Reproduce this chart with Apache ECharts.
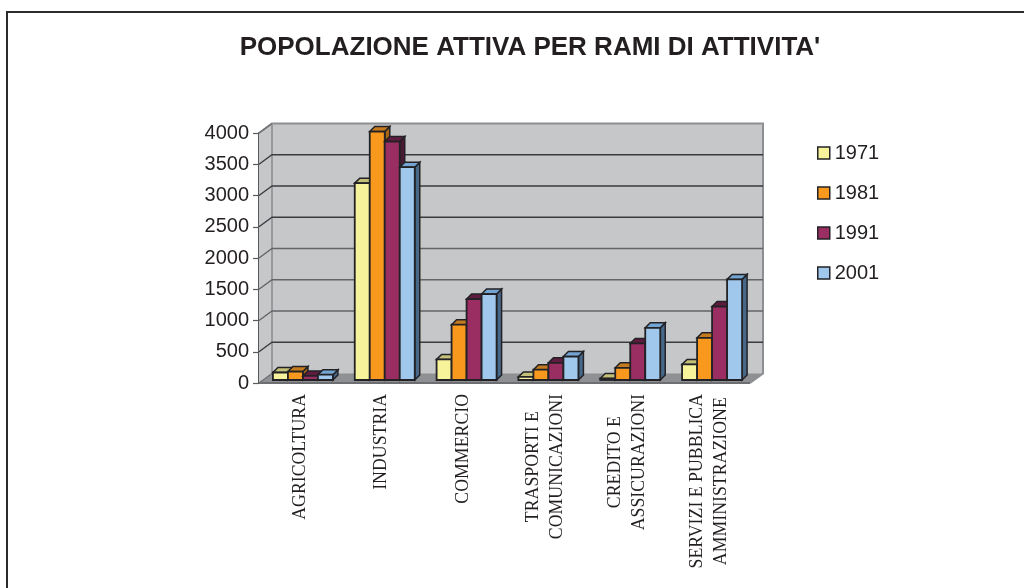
<!DOCTYPE html>
<html><head><meta charset="utf-8">
<style>html,body{margin:0;padding:0;background:#fff}#c{width:1024px;height:588px}</style>
<script src="https://cdn.jsdelivr.net/npm/echarts@6/dist/echarts.min.js"></script>
</head><body><div id="c"></div>
<script>
const categories = ['AGRICOLTURA','INDUSTRIA','COMMERCIO','TRASPORTI E\nCOMUNICAZIONI','CREDITO E\nASSICURAZIONI','SERVIZI E PUBBLICA\nAMMINISTRAZIONE'];
const years = ['1971','1981','1991','2001'];
const v1971 = [120,3150,330,50,25,250];
const v1981 = [135,3975,885,165,195,675];
const v1991 = [65,3815,1295,275,585,1175];
const v2001 = [85,3405,1375,375,835,1610];
const yTicks = [0,500,1000,1500,2000,2500,3000,3500,4000];
const seriesValues = [v1971,v1981,v1991,v2001];
const colors = ['#f7f39b','#f8981d','#9a2d62','#a0c8ec'];
const topColors = ['#c4c078','#c47a1e','#5f1c3e','#74a4d2'];
const sideColors = ['#a8a568','#a86614','#4a1a34','#48688a'];

const wallDX = 13, wallDY = 9.5;
const barW = 15, barDX = 5, barDY = 5, barShiftX = 3, barShiftY = 3;
const edge = '#222226';

function wallItem(params, api){
  const lo = api.coord([0,0]);
  const size = api.size([1,0]);
  const left = lo[0]-size[0]/2, right = left+size[0]*categories.length;
  const y = api.coord([0,api.value(0)])[1];
  const y0 = api.coord([0,0])[1], yTop = api.coord([0,4000])[1];
  const kids = [];
  if (params.dataIndex === 0) {
    kids.push({type:'polygon',shape:{points:[[left,y0],[left,yTop],[left+wallDX,yTop-wallDY],[right+wallDX,yTop-wallDY],[right+wallDX,y0-wallDY],[right,y0]]},style:{fill:'#c6c7c9'}});
    kids.push({type:'polygon',shape:{points:[[left,y0],[right,y0],[right+wallDX,y0-wallDY],[left+wallDX,y0-wallDY]]},style:{fill:'#8f9093'}});
    kids.push({type:'polyline',shape:{points:[[left,yTop],[left+wallDX,yTop-wallDY],[right+wallDX,yTop-wallDY],[right+wallDX,y0-wallDY],[right,y0]]},style:{fill:null,stroke:'#8e8f92',lineWidth:2}});
    kids.push({type:'line',shape:{x1:left+wallDX,y1:yTop-wallDY,x2:left+wallDX,y2:y0-wallDY},style:{stroke:'#98999c',lineWidth:2}});
    kids.push({type:'line',shape:{x1:left,y1:y0,x2:right,y2:y0},style:{stroke:'#6d6e71',lineWidth:2}});
  }
  const v = api.value(0);
  if (v > 0 && v < 4000) {
    const stroke = (v >= 1000 && v <= 2000) ? '#636467' : '#3a3b3e';
    kids.push({type:'polyline',shape:{points:[[left,y],[left+wallDX,y-wallDY],[right+wallDX,y-wallDY]]},style:{fill:null,stroke:stroke,lineWidth:1.3}});
  } else {
    kids.push({type:'line',shape:{x1:left,y1:y,x2:left+wallDX,y2:y-wallDY},style:{stroke:'#6d6e71',lineWidth:1.2}});
  }
  return {type:'group',children:kids};
}

function barRenderer(si){
  return function(params, api){
    const p = api.coord([api.value(0), api.value(1)]);
    const b = api.coord([api.value(0), 0]);
    const x0 = p[0] + barShiftX + (si-2)*barW, x1 = x0 + barW;
    const yB = b[1] - barShiftY, yT = p[1] - barShiftY;
    return {type:'group',children:[
      {type:'polygon',shape:{points:[[x1,yT],[x1+barDX,yT-barDY],[x1+barDX,yB-barDY],[x1,yB]]},style:{fill:sideColors[si],stroke:edge,lineWidth:1.5}},
      {type:'polygon',shape:{points:[[x0,yT],[x0+barDX,yT-barDY],[x1+barDX,yT-barDY],[x1,yT]]},style:{fill:topColors[si],stroke:edge,lineWidth:1.5}},
      {type:'rect',shape:{x:x0,y:yT,width:barW,height:yB-yT},style:{fill:colors[si],stroke:edge,lineWidth:1.8}}
    ]};
  };
}

const chart = echarts.init(document.getElementById('c'),null,{renderer:'canvas'});
chart.setOption({
  animation:false,
  backgroundColor:'#fff',
  title:{text:"POPOLAZIONE ATTIVA PER RAMI DI ATTIVITA'",left:525,textAlign:'center',top:30,
    textStyle:{fontFamily:'Liberation Sans',fontWeight:'bold',fontSize:26,color:'#231f20'}},
  graphic:[{type:'polyline',silent:true,shape:{points:[[7,588],[7,12],[1024,12]]},style:{fill:null,stroke:'#2b2a2c',lineWidth:2}}],
  legend:{orient:'vertical',left:812,top:138,itemWidth:12,itemHeight:12,itemGap:20,selectedMode:false,
    data:years.map((y,i)=>({name:y,icon:'rect',itemStyle:{color:colors[i],borderColor:edge,borderWidth:1.5}})),
    textStyle:{fontFamily:'Liberation Sans',fontSize:20,color:'#231f20'}},
  grid:{left:259,right:274,top:133,bottom:205,containLabel:false},
  xAxis:{type:'category',data:categories,boundaryGap:true,
    axisLine:{show:false},axisTick:{show:false},
    axisLabel:{rotate:90,interval:0,margin:11,align:'right',verticalAlign:'middle',
      fontFamily:'Liberation Serif',fontSize:17.8,color:'#231f20',lineHeight:24,
      formatter:(s)=>s.split('\n').map(t=>'{a|'+t+'}').join('\n'),
      rich:{a:{align:'center',fontFamily:'Liberation Serif',fontSize:17.8,color:'#231f20',lineHeight:24}}}},
  yAxis:{type:'value',min:0,max:4000,interval:500,
    axisLine:{show:true,lineStyle:{color:'#58595b',width:2}},
    axisTick:{show:true,length:6,lineStyle:{color:'#58595b',width:1.2}},
    splitLine:{show:false},
    axisLabel:{margin:10,fontFamily:'Liberation Sans',fontSize:20,color:'#231f20',formatter:(v)=>String(v)}},
  series:[
    {type:'custom',name:'wall',silent:true,z:1,clip:false,renderItem:wallItem,data:yTicks.map(t=>[t]),encode:{y:0},legendHoverLink:false},
    ...years.map((y,i)=>({type:'custom',name:y,z:2+i,clip:false,itemStyle:{color:colors[i]},
      renderItem:barRenderer(i),data:seriesValues[i].map((v,k)=>[k,v]),encode:{x:0,y:1}}))
  ]
});
</script></body></html>
